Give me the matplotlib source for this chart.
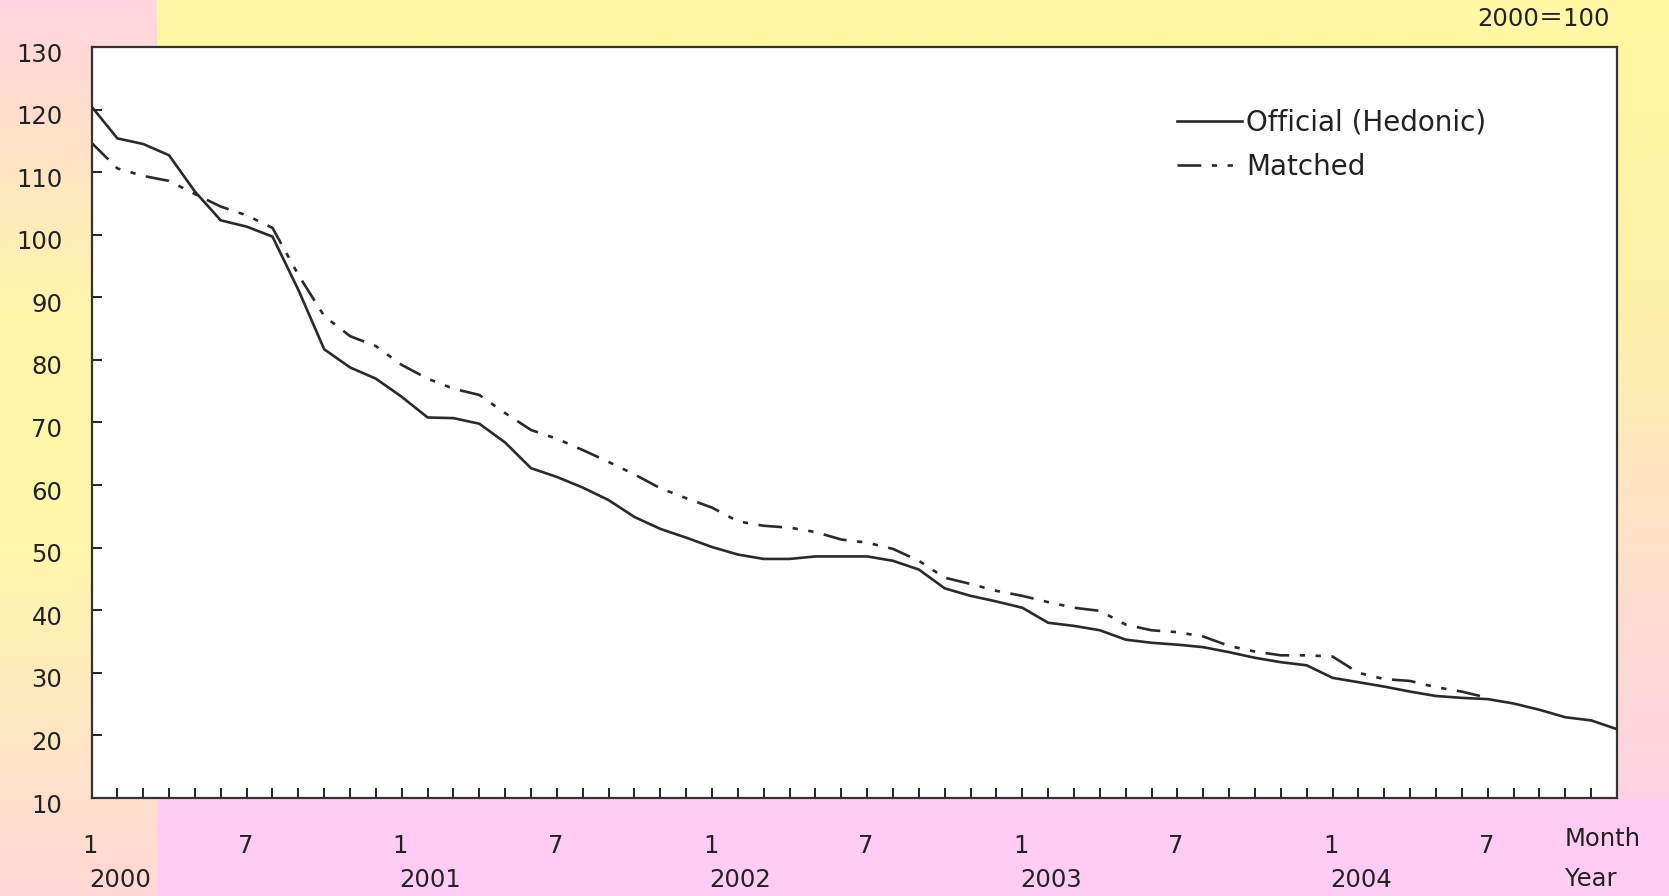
import numpy as np
import matplotlib
matplotlib.use("Agg")
import matplotlib.pyplot as plt
import matplotlib.transforms as mtrans

plt.rcParams['font.family'] = ['DejaVu Sans', 'Noto Sans CJK JP']

# ---- data -------------------------------------------------------------
years = ["2000", "2001", "2002", "2003", "2004"]
month_labels = ["1", "7"]
official = [120.5, 115.4, 114.5, 112.7, 106.9, 102.3, 101.3, 99.7, 91.2, 81.7,
            78.8, 77.0, 74.1, 70.8, 70.7, 69.8, 66.8, 62.7, 61.3, 59.6,
            57.6, 54.9, 53.0, 51.6, 50.1, 48.9, 48.2, 48.2, 48.6, 48.6,
            48.6, 47.9, 46.5, 43.5, 42.3, 41.4, 40.4, 38.0, 37.5, 36.8,
            35.3, 34.8, 34.5, 34.1, 33.3, 32.4, 31.7, 31.2, 29.2, 28.5,
            27.8, 27.0, 26.3, 26.0, 25.8, 25.1, 24.1, 22.9, 22.4, 21.0]
matched = [114.7, 110.6, 109.4, 108.6, 106.5, 104.5, 103.1, 101.1, 93.6, 87.0,
           83.8, 82.2, 79.2, 77.0, 75.4, 74.4, 71.5, 68.8, 67.4, 65.6,
           63.7, 61.7, 59.5, 57.9, 56.4, 54.2, 53.5, 53.2, 52.5, 51.3,
           50.8, 49.8, 47.9, 45.2, 44.2, 43.1, 42.3, 41.3, 40.4, 39.9,
           37.7, 36.8, 36.5, 35.8, 34.3, 33.4, 32.8, 32.8, 32.6, 30.0,
           29.0, 28.7, 27.7, 27.0, 26.0]
series_names = ["Official (Hedonic)", "Matched"]
yticks = [10, 20, 30, 40, 50, 60, 70, 80, 90, 100, 110, 120, 130]

W, H = 1669, 896
FS = 17.5
TXT = '#222222'
fig = plt.figure(figsize=(W / 100, H / 100), dpi=100)

# ---- background -------------------------------------------------------
def lerp_stops(t, stops):
    pos = np.array([s[0] for s in stops])
    cols = np.array([s[1] for s in stops], dtype=float)
    out = np.zeros((len(t), 3))
    for c in range(3):
        out[:, c] = np.interp(t, pos, cols[:, c])
    return out

yy = np.linspace(0, 1, H)
left_col = lerp_stops(yy, [(0.0, (255, 214, 226)), (0.12, (255, 222, 205)),
                           (0.35, (255, 246, 170)), (0.6, (255, 248, 168)),
                           (0.85, (255, 228, 200)), (1.0, (255, 216, 214))])
right_col = lerp_stops(yy, [(0.0, (255, 248, 160)), (0.35, (255, 240, 170)),
                            (0.65, (255, 222, 205)), (1.0, (255, 205, 238))])
bg = np.zeros((H, W, 3))
xs, xr, yb, yt = 157, 1617, 798, 47
bg[:, :xs] = left_col[:, None, :]
bg[:, xs:] = right_col[:, None, :]
bg[:yt, xs:xr] = (255, 248, 162)
bg[yb:, xs:] = (255, 205, 244)
bgax = fig.add_axes([0, 0, 1, 1], zorder=-10)
bgax.imshow(bg / 255.0, aspect='auto', extent=[0, 1, 0, 1], origin='upper')
bgax.set_axis_off()

# ---- main axes --------------------------------------------------------
ax = fig.add_axes([91.5 / W, 1 - 798 / H, (1617 - 91.5) / W, (798 - 47) / H])
ax.set_facecolor('white')
x_off = np.arange(len(official))
x_mat = np.arange(len(matched))
lc = '#2a2a2a'
l1, = ax.plot(x_off, official, color=lc, lw=1.9, label=series_names[0], zorder=3)
l2, = ax.plot(x_mat, matched, color=lc, lw=1.9, label=series_names[1],
              dashes=(9, 4, 2, 4, 2, 4), zorder=2)

ax.set_xlim(0, len(official) - 1)
ax.set_ylim(10, 130)
ax.set_yticks(yticks)
ax.set_yticklabels([str(v) for v in yticks], fontsize=FS, color=TXT)
ax.tick_params(axis='y', direction='in', length=7, width=1.2, pad=21)
shift = mtrans.ScaledTranslation(0, -5 / 100, fig.dpi_scale_trans)
for lab in ax.get_yticklabels():
    lab.set_transform(lab.get_transform() + shift)
ax.set_xticks(np.arange(1, len(official)))
ax.set_xticklabels([])
ax.tick_params(axis='x', direction='in', length=7, width=1.2)
for sp in ax.spines.values():
    sp.set_linewidth(1.6)
    sp.set_color('#333333')

# month / year labels
tr = mtrans.blended_transform_factory(ax.transData, fig.transFigure)
for yi, yr in enumerate(years):
    for mi, ml in enumerate(month_labels):
        pos = yi * 12 + mi * 6
        ax.text(pos - 0.05, 1 - 846 / H, ml, transform=tr, ha='center', va='center',
                fontsize=FS, color=TXT)
    ax.text(yi * 12 + 1.1, 1 - 880 / H, yr, transform=tr, ha='center', va='center',
            fontsize=FS, color=TXT)
fig.text(1565 / W, 1 - 839 / H, "Month", ha='left', va='center', fontsize=FS, color=TXT)
fig.text(1565 / W, 1 - 879 / H, "Year", ha='left', va='center', fontsize=FS, color=TXT)
fig.text(1610 / W, 1 - 19 / H, "2000＝100", ha='right', va='center', fontsize=FS, color=TXT)

leg = ax.legend(handles=[l1, l2], loc='upper left', bbox_to_anchor=(0.7116, 0.918),
                frameon=False, fontsize=20, handlelength=2.35, handletextpad=0.13,
                labelspacing=0.58, borderaxespad=0, borderpad=0)
for t in leg.get_texts():
    t.set_color(TXT)

fig.savefig("out.png", dpi=100)
